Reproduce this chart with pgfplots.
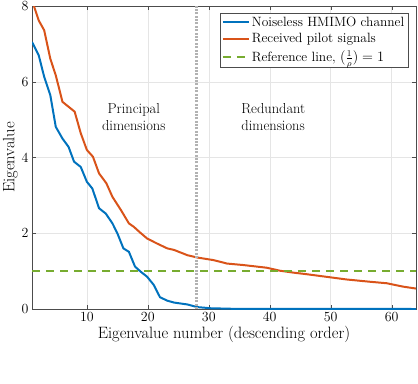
\documentclass[border=0pt]{standalone}
\usepackage{fontspec}
\setmainfont{Latin Modern Roman}
\usepackage{pgfplots}
\pgfplotsset{compat=1.18}
\definecolor{mblue}{RGB}{0,114,189}
\definecolor{morange}{RGB}{217,83,25}
\definecolor{mgreen}{RGB}{119,172,48}
\begin{document}
\begin{tikzpicture}
\begin{axis}[
  scale only axis, width=384bp, height=303bp,
  xmin=1, xmax=64, ymin=0, ymax=8,
  xtick={10,20,30,40,50,60}, ytick={0,2,4,6,8},
  /pgf/number format/assume math mode=true,
  tick align=inside, major tick length=4bp,
  axis line style={black!70}, tick style={black!70},
  grid=major, major grid style={black!10},
  tick label style={font=\fontsize{14}{16}\selectfont},
  label style={font=\fontsize{16.5}{18}\selectfont},
  xlabel={Eigenvalue number (descending order)},
  ylabel={Eigenvalue},
  ylabel style={yshift=-3bp},
  xlabel style={yshift=3bp},
  legend cell align=left,
  legend style={at={(0.979,0.977)}, anchor=north east, draw=black!70,
    font=\fontsize{13.5}{15}\selectfont, inner sep=1.5pt, row sep=2pt},
  legend image code/.code={\draw[#1] (0bp,0bp) -- (26bp,0bp);},
  legend image post style={line width=2pt},
]
\addplot[mblue, line width=2pt] coordinates {
(1,7.05) (2.1,6.70) (3,6.13) (4,5.65) (4.9,4.81) (6,4.50) (7,4.28) (7.9,3.89)
(9,3.75) (10,3.36) (10.9,3.18) (12,2.66) (13.1,2.52) (14.2,2.26) (15,2.00)
(16,1.60) (16.9,1.51) (17.9,1.12) (18.8,0.99) (19.9,0.85) (21,0.63) (22,0.31)
(23.2,0.22) (24.3,0.17) (26.5,0.12) (28.1,0.05) (30.3,0.02) (34,0.005) (64,0.0)
};
\addlegendentry{Noiseless HMIMO channel}
\addplot[morange, line width=2pt] coordinates {
(1,8.15) (2.1,7.62) (3,7.36) (4,6.61) (4.9,6.17) (6,5.47) (7,5.34) (8,5.21)
(9,4.64) (10,4.20) (11,4.02) (12,3.58) (13.2,3.32) (14.2,2.96) (15.6,2.61)
(16.9,2.26) (17.7,2.17) (18.8,2.01) (19.9,1.86) (21.5,1.73) (23.2,1.60)
(24.3,1.56) (25.4,1.49) (26.5,1.42) (28.1,1.36) (30.8,1.29) (33,1.20)
(35.7,1.16) (39.5,1.09) (41.7,1.01) (43.9,0.96) (46,0.92) (49.3,0.85)
(52.6,0.78) (56.4,0.72) (59.2,0.68) (61.9,0.59) (64,0.54)
};
\addlegendentry{Received pilot signals}
\addplot[mgreen, line width=2pt, dash pattern=on 8bp off 6bp] coordinates {(1,1) (64,1)};
\addlegendentry{Reference line, $(\frac{1}{\rho})=1$}
\addplot[black!30, line width=2.6pt, dash pattern=on 2pt off 1.4pt, forget plot] coordinates {(28,0) (28,8)};
\node[align=center, font=\fontsize{14.5}{17}\selectfont] at (axis cs:17.7,5.07) {Principal\\dimensions};
\node[align=left, font=\fontsize{14.5}{17}\selectfont] at (axis cs:40.6,5.07) {Redundant\\dimensions};
\end{axis}
\pgfresetboundingbox
\path[use as bounding box] (-32bp,-75bp) rectangle (386bp,309bp);
\end{tikzpicture}
\end{document}
